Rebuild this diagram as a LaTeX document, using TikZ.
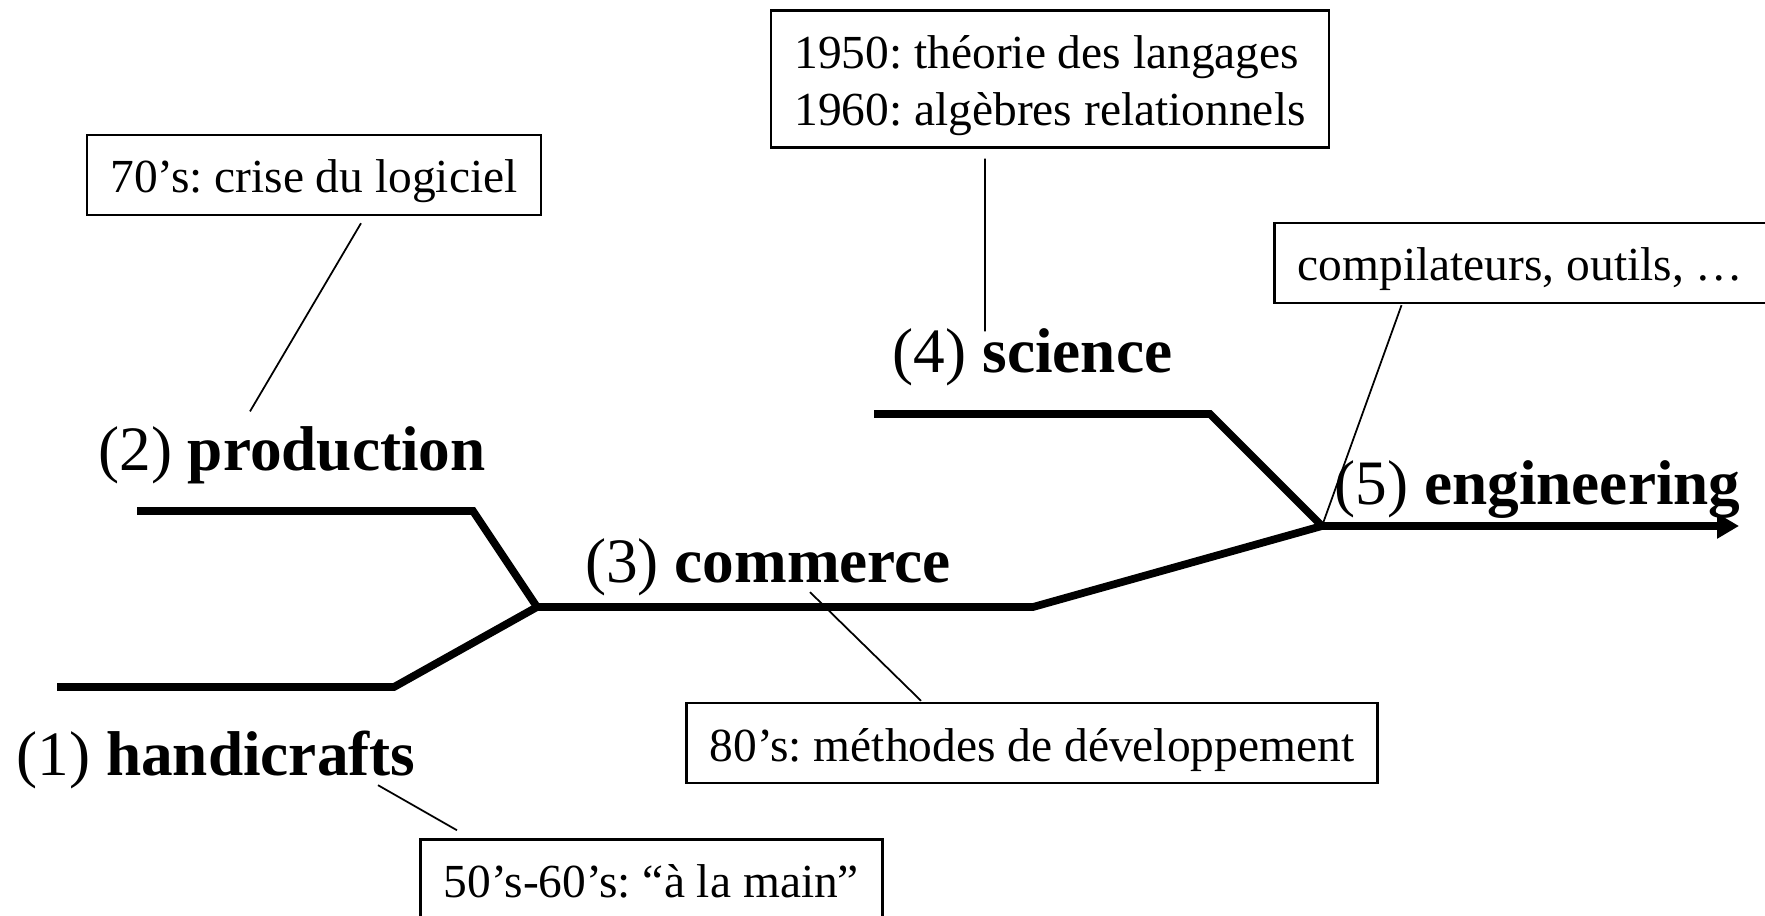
\documentclass[tikz,border=0pt]{standalone}
\usepackage{fontspec}
\setmainfont{Liberation Serif}
\frenchspacing
\usetikzlibrary{arrows.meta}
\tikzset{
  track/.style={line width=2.2pt},
  link/.style={line width=0.5pt},
  stage/.style={font=\fontsize{18}{21.6}\selectfont, inner sep=0pt, anchor=base},
  box/.style={draw, line width=0.7pt, font=\fontsize{13.5}{16.2}\selectfont, inner xsep=2.35mm, inner ysep=0pt},
  note/.style={box, text height=5.8mm, text depth=2.2mm}
}
\begin{document}
\begin{tikzpicture}
\useasboundingbox (0,0) rectangle (17.65,9.15);

%corner points of the track
\coordinate (h1) at (0.57,2.28);
\coordinate (h2) at (3.94,2.28);
\coordinate (j1) at (5.37,3.08);
\coordinate (p1) at (1.37,4.04);
\coordinate (p2) at (4.73,4.04);
\coordinate (c2) at (10.33,3.08);
\coordinate (j2) at (13.22,3.89);
\coordinate (s1) at (8.74,5.01);
\coordinate (s2) at (12.10,5.01);
\coordinate (tip) at (17.39,3.89);

%drawing the track
\draw[track] (h1) -- (h2) -- (j1) -- (c2) -- (j2);
\draw[track] (p1) -- (p2) -- (j1);
\draw[track] (s1) -- (s2) -- (j2);
\draw[track,-{Triangle[length=2.2mm,width=2.4mm]}] (j2) -- (tip);

%stages
\node[stage] (handi) at (2.16,1.40) {(1) \textbf{handicrafts}};
\node[stage] (prod) at (2.92,4.44) {(2) \textbf{production}};
\node[stage] (comm) at (7.68,3.33) {(3) \textbf{commerce}};
\node[stage] (sci) at (10.325,5.42) {(4) \textbf{science}};
\node[stage] (eng) at (15.375,4.10) {(5) \textbf{engineering}};

%notes
\node[note] (crise) at (3.14,7.40) {70’s: crise du logiciel};
\node[box, align=left] (theory) at (10.50,8.36) {\rule{0pt}{5.8mm}1950: théorie des langages\\1960: algèbres relationnels\rule[-2.2mm]{0pt}{0pt}};
\node[note] (compil) at (15.205,6.52) {compilateurs, outils, …};
\node[note] (method) at (10.32,1.72) {80’s: méthodes de développement};
\node[note] (hand) at (6.515,0.355) {50’s-60’s: “à la main”};

%connecting notes to stages
\draw[link] ([xshift=4.7mm,yshift=-0.7mm]crise.south) -- ([xshift=-4.2mm,yshift=1.5mm]prod.north);
\draw[link] ([xshift=-6.5mm,yshift=-1mm]theory.south) -- ([xshift=-4.75mm,yshift=-0.3mm]sci.north);
\draw[link] ([xshift=-11.9mm,yshift=-0.1mm]compil.south) -- (j2);
\draw[link] ([xshift=4.2mm,yshift=0.4mm]comm.south) -- ([xshift=-11.1mm,yshift=0.1mm]method.north);
\draw[link] ([xshift=16.2mm,yshift=0.4mm]handi.south) -- ([xshift=-19.45mm,yshift=0.8mm]hand.north);
\end{tikzpicture}
\end{document}
